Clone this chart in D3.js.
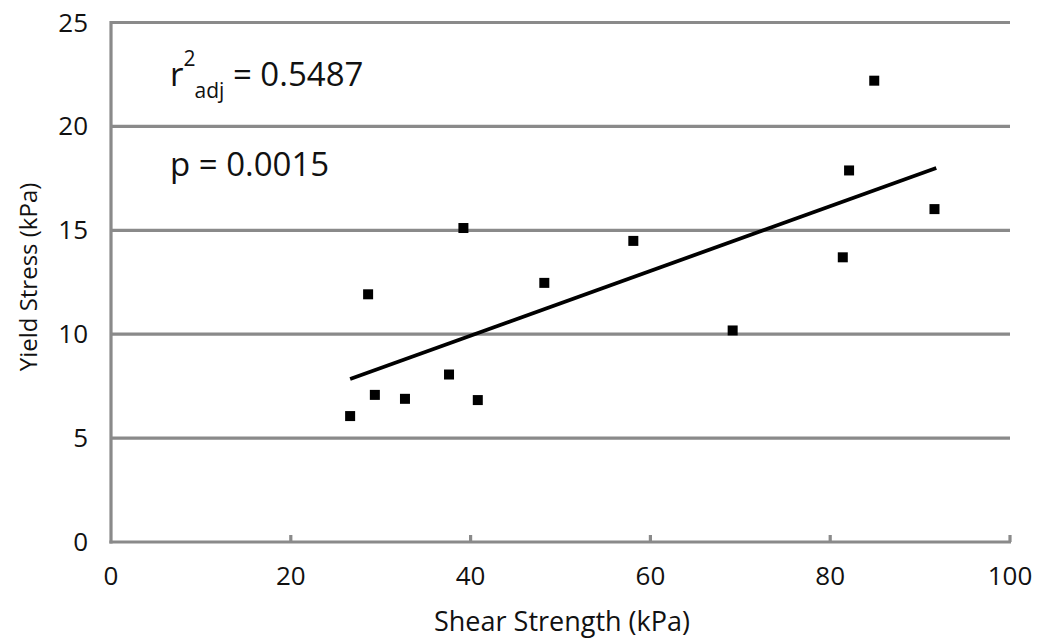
<!DOCTYPE html>
<html><head><meta charset="utf-8">
<script src="https://cdn.jsdelivr.net/npm/d3@7"></script>
<style>body{margin:0;background:#fff}svg{display:block}text{font-family:"Open Sans",sans-serif;fill:#111}</style>
</head><body><svg id="c" width="1044" height="639"></svg>
<script>
const shearStrength = [26.6, 28.6, 29.35, 32.7, 37.6, 39.2, 40.8, 48.2, 58.1, 69.15, 81.4, 82.1, 84.9, 91.6];
const yieldStress   = [6.06, 11.92, 7.08, 6.89, 8.06, 15.11, 6.83, 12.47, 14.49, 10.18, 13.7, 17.88, 22.2, 16.02];
const fitX = [26.6, 91.8];
const fitY = [7.84, 18.0];
const xTicks = [0, 20, 40, 60, 80, 100];
const yTicks = [0, 5, 10, 15, 20, 25];
const xTitle = "Shear Strength (kPa)";
const yTitle = "Yield Stress (kPa)";

const svg = d3.select("#c");
const x = d3.scaleLinear().domain([0, 100]).range([111, 1010]);
const y = d3.scaleLinear().domain([0, 25]).range([542, 22.5]);
const grid = "#8a8a8a";

svg.append("g").selectAll("line").data(yTicks.filter(d => d > 0)).join("line")
  .attr("x1", x(0)).attr("x2", x(100)).attr("y1", d => y(d)).attr("y2", d => y(d))
  .attr("stroke", grid).attr("stroke-width", 3.2);

svg.append("line").attr("x1", x(0)).attr("x2", x(0)).attr("y1", y(0)+1.6).attr("y2", y(25)-1.6)
  .attr("stroke", grid).attr("stroke-width", 3.2);
svg.append("line").attr("x1", x(0)-1.6).attr("x2", x(100)+1).attr("y1", y(0)).attr("y2", y(0))
  .attr("stroke", grid).attr("stroke-width", 3.2);
svg.append("g").selectAll("line").data(xTicks.filter(d => d > 0)).join("line")
  .attr("x1", d => x(d)).attr("x2", d => x(d)).attr("y1", y(0)).attr("y2", y(0) - 7)
  .attr("stroke", grid).attr("stroke-width", 3.2);

svg.append("g").selectAll("text").data(xTicks).join("text")
  .attr("x", d => x(d)).attr("y", 585).attr("text-anchor", "middle")
  .attr("font-size", 26).text(d => d);
svg.append("g").selectAll("text").data(yTicks).join("text")
  .attr("x", 88).attr("y", d => y(d) + 9).attr("text-anchor", "end")
  .attr("font-size", 26).text(d => d);

svg.append("text").attr("x", 562).attr("y", 631).attr("text-anchor", "middle")
  .attr("font-size", 27).text(xTitle);
svg.append("text").attr("transform", `translate(37,277) rotate(-90)`)
  .attr("text-anchor", "middle").attr("font-size", 24).text(yTitle);

svg.append("path").datum(fitX.map((d, i) => [d, fitY[i]]))
  .attr("d", d3.line().x(d => x(d[0])).y(d => y(d[1])))
  .attr("stroke", "#000").attr("stroke-width", 3.8).attr("fill", "none");

svg.append("g").selectAll("rect").data(shearStrength.map((d, i) => [d, yieldStress[i]])).join("rect")
  .attr("x", d => x(d[0]) - 5).attr("y", d => y(d[1]) - 5)
  .attr("width", 10).attr("height", 10).attr("fill", "#000");

const a = svg.append("text").attr("x", 170).attr("y", 86).attr("font-size", 33);
a.append("tspan").text("r");
a.append("tspan").attr("font-size", 21).attr("dy", -20).text("2");
a.append("tspan").attr("font-size", 21).attr("dx", -1).attr("dy", 32).text("adj");
a.append("tspan").attr("dy", -12).text(" = 0.5487");
svg.append("text").attr("x", 170).attr("y", 176).attr("font-size", 33).text("p = 0.0015");
</script></body></html>
